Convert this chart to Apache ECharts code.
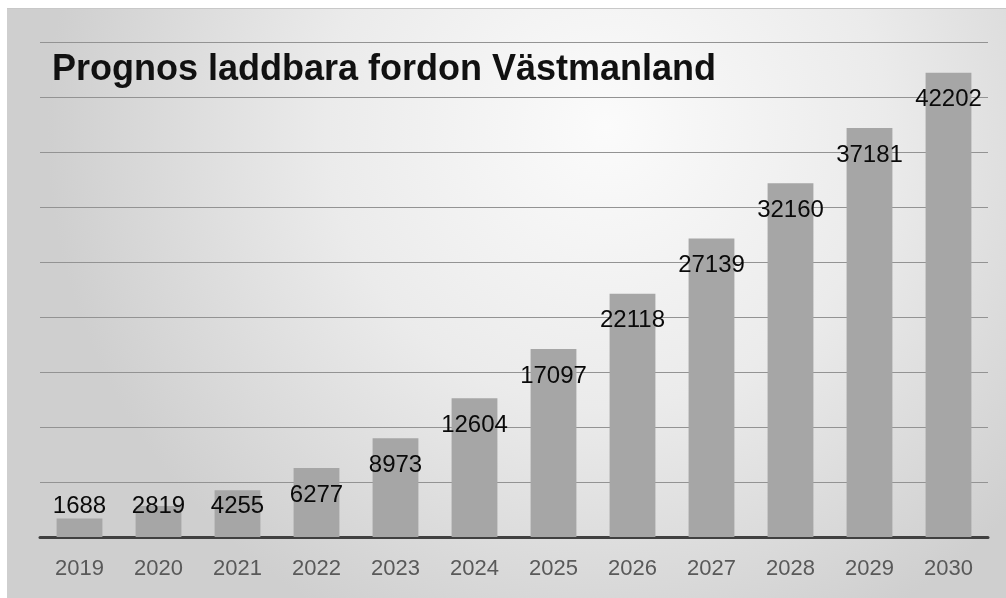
<!DOCTYPE html>
<html>
<head>
<meta charset="utf-8">
<script src="https://cdn.jsdelivr.net/npm/echarts@6/dist/echarts.min.js"></script>
<style>
  html, body { margin: 0; padding: 0; background: #ffffff; }
  #chart { position: absolute; left: 7px; top: 8px; width: 999px; height: 590px; border-top: 1px solid #c8c8c8; box-sizing: border-box; }
</style>
</head>
<body>
<div id="chart"></div>
<script>
// Forecast of chargeable vehicles in Västmanland, per year
const years = ['2019', '2020', '2021', '2022', '2023', '2024', '2025', '2026', '2027', '2028', '2029', '2030'];
const vehicles = [1688, 2819, 4255, 6277, 8973, 12604, 17097, 22118, 27139, 32160, 37181, 42202];
const yMax = 45000;
const yStep = 5000;

const chart = echarts.init(document.getElementById('chart'));

// Short bars keep their value label just above the base line
const barData = vehicles.map(v => ({
  value: v,
  label: v < yStep
    ? { position: 'insideBottom', distance: 19 }
    : { position: 'insideTop', distance: 15 }
}));

chart.setOption({
  backgroundColor: {
    type: 'radial', x: 0.6, y: 0.2, r: 0.95,
    colorStops: [
      { offset: 0, color: '#fbfbfb' },
      { offset: 0.5, color: '#ebebeb' },
      { offset: 1, color: '#cfcfcf' }
    ]
  },
  title: {
    text: 'Prognos laddbara fordon Västmanland',
    left: 45,
    top: 43,
    padding: 0,
    textStyle: {
      fontFamily: 'Liberation Sans',
      fontWeight: 'bold',
      fontSize: 36,
      color: '#111111'
    }
  },
  grid: { left: 33, right: 18, top: 33, bottom: 61 },
  xAxis: {
    type: 'category',
    data: years,
    axisLine: { lineStyle: { color: '#404040', width: 3 } },
    axisTick: { show: false },
    axisLabel: {
      margin: 21,
      fontFamily: 'Liberation Sans',
      fontSize: 22,
      color: '#595959'
    }
  },
  yAxis: {
    type: 'value',
    min: 0,
    max: yMax,
    interval: yStep,
    axisLine: { show: false },
    axisTick: { show: false },
    axisLabel: { show: false },
    splitLine: { lineStyle: { color: '#939393', width: 1.2 } }
  },
  series: [{
    type: 'bar',
    data: barData,
    barCategoryGap: '42%',
    itemStyle: { color: '#a6a6a6' },
    label: {
      show: true,
      fontFamily: 'Liberation Sans',
      fontSize: 24,
      color: '#0a0a0a'
    }
  }]
});
</script>
</body>
</html>
